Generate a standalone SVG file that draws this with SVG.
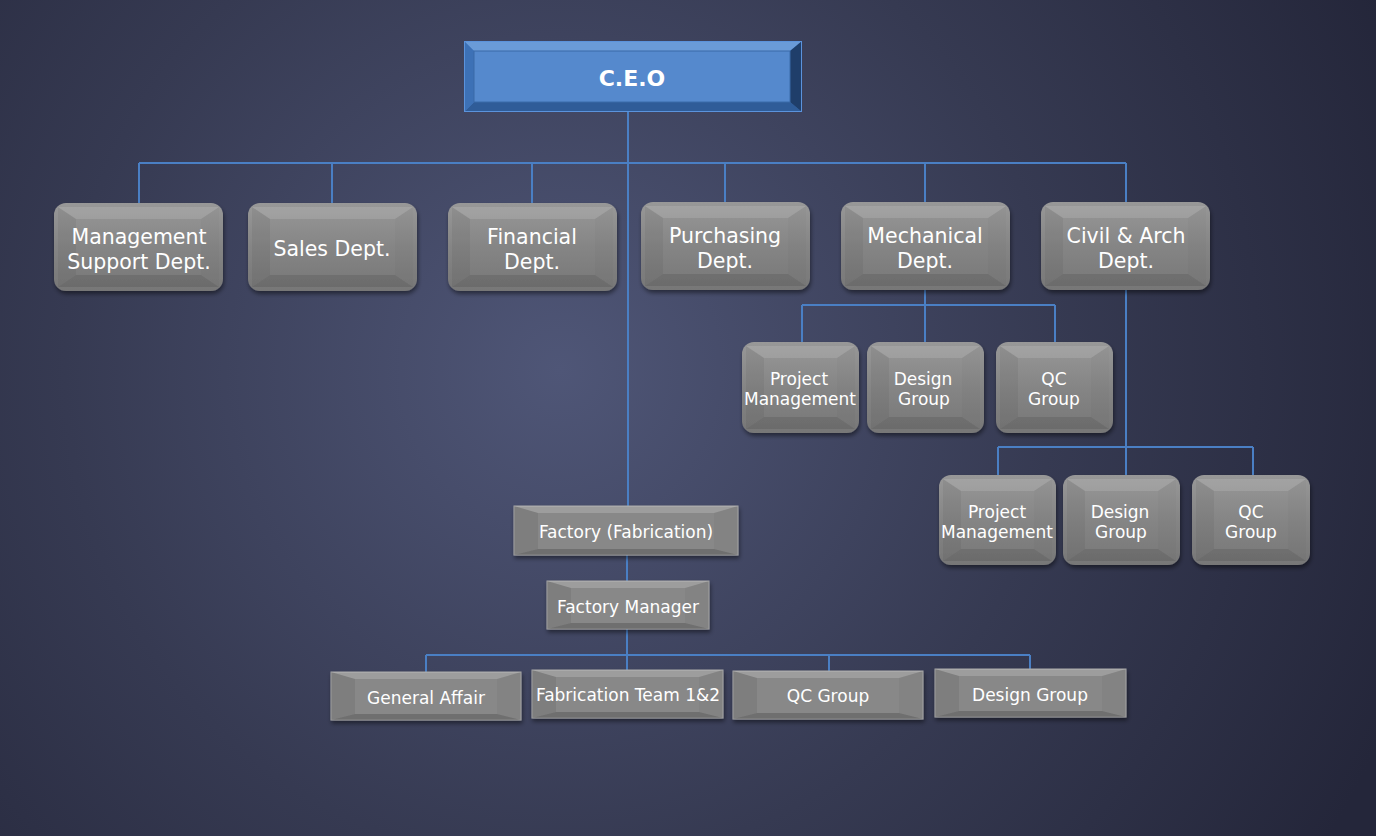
<svg xmlns="http://www.w3.org/2000/svg" width="1376" height="836" viewBox="0 0 1376 836">
<defs>
<radialGradient id="bg" cx="560" cy="370" r="900" gradientUnits="userSpaceOnUse">
<stop offset="0" stop-color="#4f5677"/>
<stop offset="0.55" stop-color="#363a52"/>
<stop offset="1" stop-color="#24263a"/>
</radialGradient>
<linearGradient id="gface" x1="0" y1="0" x2="0" y2="1">
<stop offset="0" stop-color="#989898"/>
<stop offset="0.5" stop-color="#858585"/>
<stop offset="1" stop-color="#777777"/>
</linearGradient>
<filter id="sh" x="-10%" y="-10%" width="130%" height="140%">
<feDropShadow dx="1" dy="3" stdDeviation="2" flood-color="#000" flood-opacity="0.45"/>
</filter>
</defs>
<style>
.face{fill:url(#gface);filter:url(#sh);}
.rface{fill:#888;stroke:#a8a8a8;stroke-width:1;filter:url(#sh);}
.bt{fill:#fff;opacity:0.18;}
.bb{fill:#000;opacity:0.18;}
.bl{fill:#000;opacity:0.07;}
.br{fill:#000;opacity:0.03;}
.rb .bt{opacity:0.12;}
.rb .bb{opacity:0.1;}
.rb .bl{opacity:0.05;}
.rb .br{opacity:0.02;}
.t20{font-family:"DejaVu Sans",Verdana,sans-serif;font-size:20.5px;fill:#fff;text-anchor:middle;}
.t16{font-family:"DejaVu Sans",Verdana,sans-serif;font-size:17px;fill:#fff;text-anchor:middle;}
.ln{stroke:#4a7fc4;stroke-width:2;fill:none;}
</style>
<rect x="0" y="0" width="1376" height="836" fill="url(#bg)"/>

<g id="connectors">
<path class="ln" d="M628 112 V506"/>
<path class="ln" d="M139 163 H1126"/>
<path class="ln" d="M139 163 V203 M332 163 V203 M532 163 V203 M725 163 V202 M925 163 V202 M1126 163 V202"/>
<path class="ln" d="M925 290 V342 M802 305 H1055 M802 305 V342 M1055 305 V342"/>
<path class="ln" d="M1126 290 V475 M998 447 H1253 M998 447 V475 M1253 447 V475"/>
<path class="ln" d="M627 555 V581 M627 629 V670"/>
<path class="ln" d="M426 655 H1030 M426 655 V672 M829 655 V671 M1030 655 V669"/>
</g>

<g id="ceo">
<rect x="464" y="41" width="338" height="71" fill="#4a82cb"/>
<polygon points="464,41 802,41 790,51 474,51" fill="#6a9bd8"/>
<polygon points="464,112 802,112 790,102 474,102" fill="#2f5c98"/>
<polygon points="464,41 474,51 474,102 464,112" fill="#3d71b6"/>
<polygon points="802,41 790,51 790,102 802,112" fill="#1f3e6a"/>
<rect x="474" y="51" width="316" height="51" fill="#5589cd" stroke="#3a6aa8" stroke-width="1"/>
<rect x="464.5" y="41.5" width="337" height="70" fill="none" stroke="#5b93dc" stroke-width="1"/>
<text x="632" y="86" font-family="'DejaVu Sans',Verdana,sans-serif" font-size="22" font-weight="bold" fill="#fff" text-anchor="middle">C.E.O</text>
</g>

<g id="mgmt" class="rb">
<rect class="face" x="54" y="203" width="169" height="88" rx="12"/>
<polygon class="bt" points="58,207 219,207 201,219 76,219"/>
<polygon class="bb" points="58,287 219,287 201,275 76,275"/>
<polygon class="bl" points="58,207 76,219 76,275 58,287"/>
<polygon class="br" points="219,207 201,219 201,275 219,287"/>
<text class="t20" x="139" y="244">Management</text>
<text class="t20" x="139" y="269">Support Dept.</text>
</g>

<g id="sales" class="rb">
<rect class="face" x="248" y="203" width="169" height="88" rx="12"/>
<polygon class="bt" points="252,207 413,207 395,219 270,219"/>
<polygon class="bb" points="252,287 413,287 395,275 270,275"/>
<polygon class="bl" points="252,207 270,219 270,275 252,287"/>
<polygon class="br" points="413,207 395,219 395,275 413,287"/>
<text class="t20" x="332" y="256">Sales Dept.</text>
</g>

<g id="financial" class="rb">
<rect class="face" x="448" y="203" width="169" height="88" rx="12"/>
<polygon class="bt" points="452,207 613,207 595,219 470,219"/>
<polygon class="bb" points="452,287 613,287 595,275 470,275"/>
<polygon class="bl" points="452,207 470,219 470,275 452,287"/>
<polygon class="br" points="613,207 595,219 595,275 613,287"/>
<text class="t20" x="532" y="244">Financial</text>
<text class="t20" x="532" y="269">Dept.</text>
</g>

<g id="purchasing" class="rb">
<rect class="face" x="641" y="202" width="169" height="88" rx="12"/>
<polygon class="bt" points="645,206 806,206 788,218 663,218"/>
<polygon class="bb" points="645,286 806,286 788,274 663,274"/>
<polygon class="bl" points="645,206 663,218 663,274 645,286"/>
<polygon class="br" points="806,206 788,218 788,274 806,286"/>
<text class="t20" x="725" y="243">Purchasing</text>
<text class="t20" x="725" y="268">Dept.</text>
</g>

<g id="mechanical" class="rb">
<rect class="face" x="841" y="202" width="169" height="88" rx="12"/>
<polygon class="bt" points="845,206 1006,206 988,218 863,218"/>
<polygon class="bb" points="845,286 1006,286 988,274 863,274"/>
<polygon class="bl" points="845,206 863,218 863,274 845,286"/>
<polygon class="br" points="1006,206 988,218 988,274 1006,286"/>
<text class="t20" x="925" y="243">Mechanical</text>
<text class="t20" x="925" y="268">Dept.</text>
</g>

<g id="civil" class="rb">
<rect class="face" x="1041" y="202" width="169" height="88" rx="12"/>
<polygon class="bt" points="1045,206 1206,206 1188,218 1063,218"/>
<polygon class="bb" points="1045,286 1206,286 1188,274 1063,274"/>
<polygon class="bl" points="1045,206 1063,218 1063,274 1045,286"/>
<polygon class="br" points="1206,206 1188,218 1188,274 1206,286"/>
<text class="t20" x="1126" y="243">Civil &amp; Arch</text>
<text class="t20" x="1126" y="268">Dept.</text>
</g>

<g id="mech-pm" class="rb">
<rect class="face" x="742" y="342" width="117" height="91" rx="12"/>
<polygon class="bt" points="746,346 855,346 837,358 764,358"/>
<polygon class="bb" points="746,429 855,429 837,417 764,417"/>
<polygon class="bl" points="746,346 764,358 764,417 746,429"/>
<polygon class="br" points="855,346 837,358 837,417 855,429"/>
<text class="t16" x="799" y="385">Project</text>
<text class="t16" x="800" y="405">Management</text>
</g>

<g id="mech-design" class="rb">
<rect class="face" x="867" y="342" width="117" height="91" rx="12"/>
<polygon class="bt" points="871,346 980,346 962,358 889,358"/>
<polygon class="bb" points="871,429 980,429 962,417 889,417"/>
<polygon class="bl" points="871,346 889,358 889,417 871,429"/>
<polygon class="br" points="980,346 962,358 962,417 980,429"/>
<text class="t16" x="923" y="385">Design</text>
<text class="t16" x="924" y="405">Group</text>
</g>

<g id="mech-qc" class="rb">
<rect class="face" x="996" y="342" width="117" height="91" rx="12"/>
<polygon class="bt" points="1000,346 1109,346 1091,358 1018,358"/>
<polygon class="bb" points="1000,429 1109,429 1091,417 1018,417"/>
<polygon class="bl" points="1000,346 1018,358 1018,417 1000,429"/>
<polygon class="br" points="1109,346 1091,358 1091,417 1109,429"/>
<text class="t16" x="1054" y="385">QC</text>
<text class="t16" x="1054" y="405">Group</text>
</g>

<g id="civil-pm" class="rb">
<rect class="face" x="939" y="475" width="117" height="90" rx="12"/>
<polygon class="bt" points="943,479 1052,479 1034,491 961,491"/>
<polygon class="bb" points="943,561 1052,561 1034,549 961,549"/>
<polygon class="bl" points="943,479 961,491 961,549 943,561"/>
<polygon class="br" points="1052,479 1034,491 1034,549 1052,561"/>
<text class="t16" x="997" y="518">Project</text>
<text class="t16" x="997" y="538">Management</text>
</g>

<g id="civil-design" class="rb">
<rect class="face" x="1063" y="475" width="117" height="90" rx="12"/>
<polygon class="bt" points="1067,479 1176,479 1158,491 1085,491"/>
<polygon class="bb" points="1067,561 1176,561 1158,549 1085,549"/>
<polygon class="bl" points="1067,479 1085,491 1085,549 1067,561"/>
<polygon class="br" points="1176,479 1158,491 1158,549 1176,561"/>
<text class="t16" x="1120" y="518">Design</text>
<text class="t16" x="1121" y="538">Group</text>
</g>

<g id="civil-qc" class="rb">
<rect class="face" x="1192" y="475" width="118" height="90" rx="12"/>
<polygon class="bt" points="1196,479 1306,479 1288,491 1214,491"/>
<polygon class="bb" points="1196,561 1306,561 1288,549 1214,549"/>
<polygon class="bl" points="1196,479 1214,491 1214,549 1196,561"/>
<polygon class="br" points="1306,479 1288,491 1288,549 1306,561"/>
<text class="t16" x="1251" y="518">QC</text>
<text class="t16" x="1251" y="538">Group</text>
</g>

<g id="factory">
<rect class="rface" x="514" y="506" width="224" height="49"/>
<polygon class="bt" points="514,506 738,506 714,513 538,513"/>
<polygon class="bb" points="514,555 738,555 714,549 538,549"/>
<polygon class="bl" points="514,506 538,513 538,549 514,555"/>
<polygon class="br" points="738,506 714,513 714,549 738,555"/>
<text class="t16" x="626" y="538">Factory (Fabrication)</text>
</g>

<g id="factory-manager">
<rect class="rface" x="547" y="581" width="162" height="48"/>
<polygon class="bt" points="547,581 709,581 685,588 571,588"/>
<polygon class="bb" points="547,629 709,629 685,623 571,623"/>
<polygon class="bl" points="547,581 571,588 571,623 547,629"/>
<polygon class="br" points="709,581 685,588 685,623 709,629"/>
<text class="t16" x="628" y="613">Factory Manager</text>
</g>

<g id="general-affair">
<rect class="rface" x="331" y="672" width="190" height="48"/>
<polygon class="bt" points="331,672 521,672 497,679 355,679"/>
<polygon class="bb" points="331,720 521,720 497,714 355,714"/>
<polygon class="bl" points="331,672 355,679 355,714 331,720"/>
<polygon class="br" points="521,672 497,679 497,714 521,720"/>
<text class="t16" x="426" y="704">General Affair</text>
</g>

<g id="fab-team">
<rect class="rface" x="532" y="670" width="191" height="48"/>
<polygon class="bt" points="532,670 723,670 699,677 556,677"/>
<polygon class="bb" points="532,718 723,718 699,712 556,712"/>
<polygon class="bl" points="532,670 556,677 556,712 532,718"/>
<polygon class="br" points="723,670 699,677 699,712 723,718"/>
<text class="t16" x="628" y="701">Fabrication Team 1&amp;2</text>
</g>

<g id="fab-qc">
<rect class="rface" x="733" y="671" width="190" height="48"/>
<polygon class="bt" points="733,671 923,671 899,678 757,678"/>
<polygon class="bb" points="733,719 923,719 899,713 757,713"/>
<polygon class="bl" points="733,671 757,678 757,713 733,719"/>
<polygon class="br" points="923,671 899,678 899,713 923,719"/>
<text class="t16" x="828" y="702">QC Group</text>
</g>

<g id="fab-design">
<rect class="rface" x="935" y="669" width="191" height="48"/>
<polygon class="bt" points="935,669 1126,669 1102,676 959,676"/>
<polygon class="bb" points="935,717 1126,717 1102,711 959,711"/>
<polygon class="bl" points="935,669 959,676 959,711 935,717"/>
<polygon class="br" points="1126,669 1102,676 1102,711 1126,717"/>
<text class="t16" x="1030" y="701">Design Group</text>
</g>
</svg>
